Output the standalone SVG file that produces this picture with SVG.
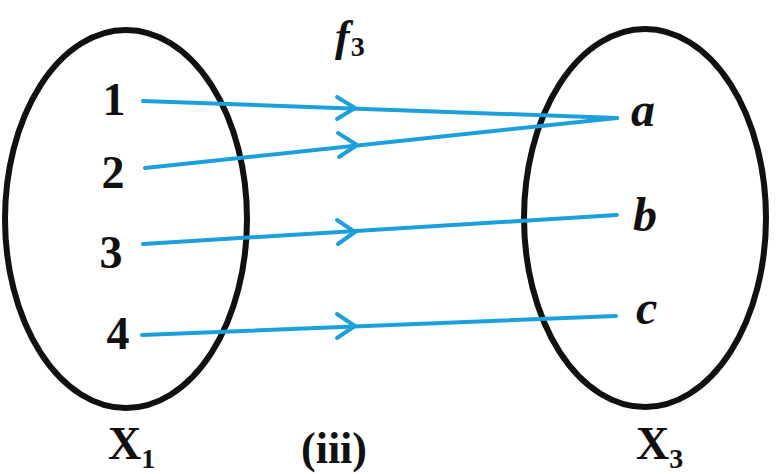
<svg xmlns="http://www.w3.org/2000/svg" width="781" height="474" viewBox="0 0 781 474">
<style>
.set{fill:none;stroke:#111;stroke-width:6}
.conn{fill:none;stroke:#1ba0dd;stroke-width:4;stroke-linecap:round}
.arr{fill:none;stroke:#1ba0dd;stroke-width:4;stroke-linecap:round;stroke-linejoin:miter}
.t{font-family:"Liberation Serif","Times New Roman",serif;font-weight:bold;fill:#111}
.num{font-size:46px;text-anchor:middle}
.it{font-style:italic;font-size:48px}
.cap{font-size:46px}
.sub{font-size:28px}
</style>
<rect width="781" height="474" fill="#fff"/>
<g id="X1">
<ellipse class="set" cx="126" cy="219" rx="121" ry="189"/>
<text class="t num" x="114" y="115">1</text>
<text class="t num" x="113" y="188">2</text>
<text class="t num" x="111" y="268">3</text>
<text class="t num" x="118" y="349">4</text>
</g>
<g id="X3">
<ellipse class="set" cx="645" cy="218" rx="121" ry="189"/>
<text class="t it" x="631" y="126">a</text>
<text class="t it" x="633" y="231">b</text>
<text class="t it" x="636" y="324">c</text>
</g>
<g id="connectors">
<path class="conn" d="M143 101 L617 118"/>
<path class="conn" d="M145 168 L617 118"/>
<path class="conn" d="M143 244 L617 215"/>
<path class="conn" d="M142 335 L616 316"/>
<path class="arr" d="M337 97 L355 108 L337 119"/>
<path class="arr" d="M338 133 L357 145 L339 157"/>
<path class="arr" d="M337 220 L355 232 L338 244"/>
<path class="arr" d="M337 314 L355 326 L337 338"/>
</g>
<g id="labels">
<text class="t" x="335" y="51" font-size="44" font-style="italic">f<tspan class="sub" font-style="normal" dx="1" dy="5">3</tspan></text>
<text class="t cap" x="108" y="459">X<tspan class="sub" dy="9">1</tspan></text>
<text class="t cap" x="636" y="459">X<tspan class="sub" dy="9">3</tspan></text>
<text class="t" x="301" y="463" font-size="44">(iii)</text>
</g>
</svg>
